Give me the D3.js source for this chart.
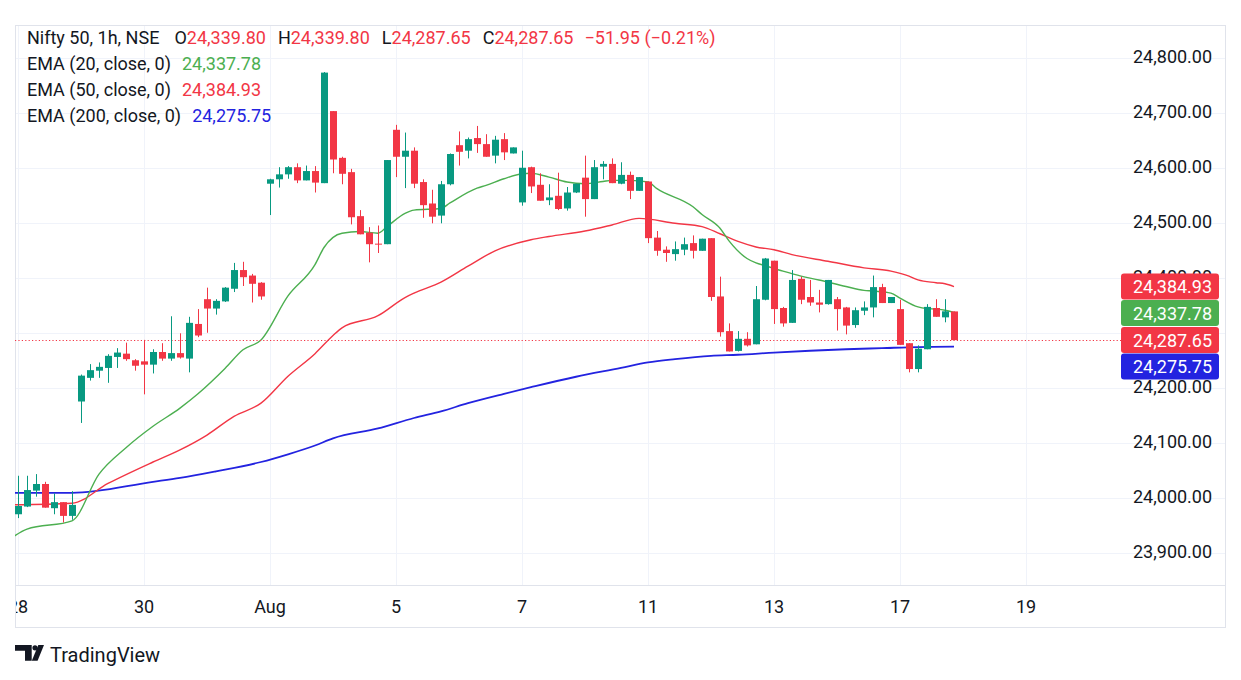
<!DOCTYPE html>
<html><head><meta charset="utf-8">
<script src="https://cdn.jsdelivr.net/npm/d3@7"></script>
<style>
body{margin:0;background:#fff}
svg{display:block}
text{font-family:Roboto,"Noto Sans",sans-serif}
</style>
</head><body>
<svg id="c" width="1241" height="680"></svg>
<script>
// ---------------- DATA ----------------
const opens=[23971,23985,24014,24026,23982,23993,23968,24176,24219,24232,24237,24257,24263,24251,24249,24243,
24266,24254,24264,24254,24317,24362,24345,24358,24381,24415,24405,24392,
24572,24580,24589,24602,24578,24595,24573,24704,24619,24593,24513,24483,24463,24462,
24670,24621,24632,24575,24536,24514,24571,24642,24632,24655,24644,24623,24653,24627,
24538,24602,24570,24542,24550,24527,24556,24583,24544,24603,24608,24572,24588,24559,
24576,24474,24452,24444,24452,24464,24450,24473,24367,24304,24268,24290,24280,24361,
24432,24346,24319,24399,24366,24356,24353,24362,24347,24315,24341,24347,24384,24355,
24344,24282,24235,24271,24346,24329,24339.80];
const highs=[24041,24041,24044,24030,24009,23993,24013,24225,24244,24247,24262,24273,24283,24253,24288,24271,
24282,24331,24300,24330,24344,24383,24362,24384,24428,24430,24408,24393,
24581,24602,24604,24609,24605,24604,24775,24704,24621,24599,24524,24493,24496,24615,
24679,24665,24638,24580,24561,24577,24627,24667,24656,24677,24662,24659,24664,24638,
24632,24603,24591,24571,24592,24566,24572,24623,24615,24613,24618,24611,24594,24584,
24576,24486,24458,24467,24474,24478,24472,24473,24403,24318,24304,24302,24386,24437,
24432,24348,24415,24403,24397,24379,24397,24366,24348,24347,24358,24405,24390,24366,
24361,24282,24278,24353,24362,24362,24339.80];
const lows=[23964,23984,24003,23983,23971,23956,23961,24137,24214,24219,24210,24237,24250,24232,24189,24227,
24250,24250,24254,24229,24293,24301,24334,24357,24375,24386,24356,24361,
24515,24565,24581,24573,24578,24556,24573,24591,24571,24498,24480,24429,24446,24462,
24584,24564,24564,24510,24500,24500,24569,24605,24618,24628,24621,24609,24615,24627,
24532,24555,24541,24533,24524,24523,24555,24512,24544,24580,24573,24571,24544,24559,
24464,24441,24430,24432,24442,24436,24450,24359,24294,24267,24267,24276,24280,24360,
24317,24312,24319,24353,24350,24338,24352,24305,24298,24310,24333,24329,24355,24355,
24279,24229,24229,24271,24330,24320,24287.65];
const closes=[23986,24015,24026,23983,23993,23968,23988,24223,24233,24239,24259,24265,24253,24241,24243,24266,
24254,24264,24256,24319,24296,24345,24359,24383,24415,24402,24390,24367,
24580,24589,24602,24578,24595,24574,24774,24616,24590,24511,24480,24462,24462,24615,
24621,24632,24572,24533,24512,24571,24626,24630,24653,24644,24621,24652,24629,24638,
24601,24567,24541,24547,24526,24556,24572,24544,24602,24608,24573,24588,24559,24584,
24473,24450,24446,24453,24462,24450,24472,24366,24302,24267,24290,24278,24362,24436,
24344,24318,24397,24361,24356,24352,24397,24344,24314,24342,24347,24384,24355,24366,
24279,24235,24272,24348,24330,24340,24287.65];

// EMA values read at sampled candle indices
const ema20Idx=[-1,1,6,9,12,15,18,20,23,25,27,30,33,34,36,38,40,41,43,44,47,48,51,52,54,56,57,59,61,63,65,66,68,70,71,75,76,78,79,81,82,83,85,87,89,92,94,95,97,98,100,101,102,103,104];
const ema20=[23925,23944,23959,24044,24092,24131,24164,24190,24236,24270,24288,24368,24425,24456,24482,24485,24482,24494,24518,24524,24527,24537,24564,24569,24581,24590,24591,24584,24575,24572,24576,24578,24578,24575,24563,24530,24516,24491,24468,24436,24428,24423,24413,24404,24397,24385,24378,24377,24373,24364,24348,24345,24344,24342,24337.78];
const ema50Idx=[-1,6,10,15,18,21,24,27,30,33,35,36,40,43,44,47,50,53,57,59,63,66,69,73,76,78,80,82,84,86,90,94,97,99,100,102,103,104];
const ema50=[23988,23991,24027,24066,24088,24115,24149,24173,24222,24263,24296,24310,24332,24365,24373,24393,24422,24450,24470,24476,24486,24497,24509,24500,24494,24481,24467,24457,24452,24443,24431,24419,24413,24404,24397,24392,24390,24384.93];
const ema200Idx=[-1,6,15,18,22,27,30,33,35,40,44,47,50,54,57,62,67,70,73,77,80,84,92,96,100,104];
const ema200=[24010,24010,24030,24037,24049,24066,24080,24096,24109,24127,24146,24158,24173,24190,24202,24221,24237,24247,24253,24259,24261,24265,24271,24273,24275,24275.75];

const xTickLabels=["28","30","Aug","5","7","11","13","17","19"];
const xTickIdx=[0,14,28,42,56,70,84,98,112];
const priceTicks=[23900,24000,24100,24200,24400,24500,24600,24700,24800];
const gridTicks=[23900,24000,24100,24200,24300,24400,24500,24600,24700,24800];

const headerTitle="Nifty 50, 1h, NSE";
const ohlcLabels=["O","H","L","C"];
const changeText="\u221251.95 (\u22120.21%)";
const emaNames=["EMA (20, close, 0)","EMA (50, close, 0)","EMA (200, close, 0)"];

// ---------------- STYLE ----------------
const UP="#089981", DOWN="#f23645", C20="#4caf50", C50="#f23645", C200="#2323e0", DARK="#131722";
const GRID="#f0f3fa", FRAME="#e0e3eb";

const svg=d3.select("#c");
const L=15,R=1225,T=25,B=627,AX=585;
const x=d3.scaleLinear().domain([0,104]).range([18,954]);
const y=d3.scaleLinear().domain([23900,24800]).range([553.3,58.3]);
const fmt=d3.format(",.2f");

svg.append("defs").append("clipPath").attr("id","plot").append("rect")
  .attr("x",L).attr("y",T).attr("width",R-L).attr("height",AX-T);

// grid
const g=svg.append("g");
g.selectAll(".hg").data(gridTicks).join("line")
  .attr("x1",L).attr("x2",R).attr("y1",d=>Math.round(y(d))+0.5).attr("y2",d=>Math.round(y(d))+0.5)
  .attr("stroke",GRID);
g.selectAll(".vg").data(xTickIdx).join("line")
  .attr("x1",d=>Math.round(x(d))+0.5).attr("x2",d=>Math.round(x(d))+0.5).attr("y1",T).attr("y2",AX)
  .attr("stroke",GRID);

// frame
svg.append("rect").attr("x",L+0.5).attr("y",T+0.5).attr("width",R-L).attr("height",B-T)
  .attr("fill","none").attr("stroke",FRAME);
svg.append("line").attr("x1",L).attr("x2",R).attr("y1",AX+0.5).attr("y2",AX+0.5).attr("stroke",FRAME);

const plot=svg.append("g").attr("clip-path","url(#plot)");

// EMA lines
const line=d3.line().x(d=>x(d[0])).y(d=>y(d[1])).curve(d3.curveMonotoneX);
[[ema200Idx,ema200,C200,1.8],[ema50Idx,ema50,C50,1.4],[ema20Idx,ema20,C20,1.4]].forEach(([ix,v,c,w])=>{
  plot.append("path").datum(ix.map((d,i)=>[d,v[i]])).attr("d",line)
    .attr("fill","none").attr("stroke",c).attr("stroke-width",w);
});

// last price dotted line
const last=closes[closes.length-1];
plot.append("line").attr("x1",L).attr("x2",1121).attr("y1",Math.round(y(last))+0.5).attr("y2",Math.round(y(last))+0.5)
  .attr("stroke",DOWN).attr("stroke-width",1.2).attr("stroke-dasharray","1.2,2.2");

// candles
const candles=opens.map((o,i)=>({i,o,h:highs[i],l:lows[i],c:closes[i]}));
const cg=plot.selectAll(".cd").data(candles).join("g");
cg.append("line")
  .attr("x1",d=>Math.round(x(d.i))+0.5).attr("x2",d=>Math.round(x(d.i))+0.5)
  .attr("y1",d=>y(d.h)).attr("y2",d=>y(d.l))
  .attr("stroke",d=>d.c>=d.o?UP:DOWN).attr("stroke-width",1);
cg.append("rect")
  .attr("x",d=>Math.round(x(d.i))-3).attr("width",7)
  .attr("y",d=>y(Math.max(d.o,d.c)))
  .attr("height",d=>Math.max(1,Math.abs(y(d.o)-y(d.c))))
  .attr("fill",d=>d.c>=d.o?UP:DOWN);

// price axis labels
svg.append("g").selectAll("text").data(priceTicks).join("text")
  .attr("x",1133).attr("y",d=>y(d)).attr("dy","0.28em")
  .attr("font-size",18).attr("fill",DARK).text(d=>fmt(d));

// time axis labels
svg.append("defs").append("clipPath").attr("id","xax").append("rect")
  .attr("x",L+1).attr("y",AX).attr("width",R-L).attr("height",B-AX);
svg.append("g").attr("clip-path","url(#xax)").selectAll("text").data(xTickIdx).join("text")
  .attr("x",d=>x(d)).attr("y",613).attr("text-anchor","middle")
  .attr("font-size",18).attr("fill",DARK).text((d,i)=>xTickLabels[i]);

// tags
const tags=[
  {v:ema50[ema50.length-1],c:C50},
  {v:ema20[ema20.length-1],c:C20},
  {v:last,c:DOWN},
  {v:ema200[ema200.length-1],c:C200}
].sort((a,b)=>b.v-a.v);
let prev=-1e9;
tags.forEach(t=>{t.cy=Math.max(y(t.v),prev+26.5);prev=t.cy;});
const tg=svg.append("g").selectAll("g").data(tags).join("g");
tg.append("rect").attr("x",1121).attr("width",98).attr("y",d=>d.cy-13).attr("height",26)
  .attr("rx",3).attr("fill",d=>d.c);
tg.append("text").attr("x",1133).attr("y",d=>d.cy).attr("dy","0.36em")
  .attr("font-size",18).attr("fill","#fff").text(d=>fmt(d.v));

// header legend
const hdr=svg.append("g").attr("font-size",18);
const t1=hdr.append("text").attr("x",27).attr("y",44).attr("fill",DARK);
t1.append("tspan").text(headerTitle);
const ohlcVals=[opens[104],highs[104],lows[104],closes[104]];
ohlcLabels.forEach((lab,i)=>{
  t1.append("tspan").attr("dx",i===0?15:12).attr("fill",DARK).text(lab);
  t1.append("tspan").attr("fill",DOWN).text(fmt(ohlcVals[i]));
});
t1.append("tspan").attr("dx",11).attr("fill",DOWN).text(changeText);
const emaLast=[ema20[ema20.length-1],ema50[ema50.length-1],ema200[ema200.length-1]];
const emaCol=[C20,C50,C200];
emaNames.forEach((n,i)=>{
  const t=hdr.append("text").attr("x",27).attr("y",70+i*26).attr("fill",DARK);
  t.append("tspan").text(n);
  t.append("tspan").attr("dx",11).attr("fill",emaCol[i]).text(fmt(emaLast[i]));
});

// TradingView logo
const lg=svg.append("g").attr("fill",DARK);
lg.append("path").attr("d","M15,645 H31.7 V660.7 H25 V650.7 H15 Z");
lg.append("circle").attr("cx",35).attr("cy",647.8).attr("r",2.6);
lg.append("path").attr("d","M38.3,645 H44 L37.6,660.7 H31.8 Z");
lg.append("text").attr("x",50).attr("y",662).attr("font-size",20).attr("font-weight",400)
  .attr("fill",DARK).text("TradingView");
</script>
</body></html>
